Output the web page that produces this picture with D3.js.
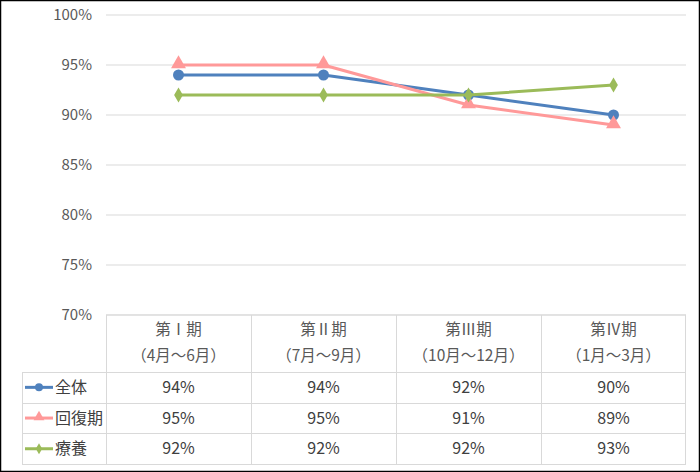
<!DOCTYPE html>
<html>
<head>
<meta charset="utf-8">
<script src="https://cdn.jsdelivr.net/npm/d3@7"></script>
<style>
  html, body { margin: 0; padding: 0; background: #fff; }
  svg { display: block; font-family: "Meiryo", "Noto Sans CJK JP", sans-serif; }
</style>
</head>
<body>
<div id="chart"></div>
<script>
// 期（カテゴリ）
var periods = ["第Ⅰ期", "第Ⅱ期", "第Ⅲ期", "第Ⅳ期"];
var periodMonths = ["（4月～6月）", "（7月～9月）", "（10月～12月）", "（1月～3月）"];
// 系列
var seriesNames = ["全体", "回復期", "療養"];
var zentai = [94, 94, 92, 90];
var kaifukuki = [95, 95, 91, 89];
var ryoyo = [92, 92, 92, 93];
var yTicks = [70, 75, 80, 85, 90, 95, 100];

var seriesColors = ["#4f81bd", "#ff9999", "#9bbb59"];
var seriesValues = [zentai, kaifukuki, ryoyo];

var width = 700, height = 472;
var plot = {left: 106, right: 686, top: 15, bottom: 315};
var table = {left: 22, headerBottom: 372, rowH: 30.7};

var svg = d3.select("#chart").append("svg")
    .attr("width", width)
    .attr("height", height);

// 外枠
svg.append("rect")
    .attr("x", 0.5).attr("y", 0.5)
    .attr("width", width - 1).attr("height", height - 1)
    .attr("fill", "#fff").attr("stroke", "#000").attr("stroke-width", 1.5);

var x = d3.scaleBand()
    .domain(periods)
    .range([plot.left, plot.right]);

var y = d3.scaleLinear()
    .domain([70, 100])
    .range([plot.bottom, plot.top]);

// 目盛線
svg.selectAll(".grid")
    .data(yTicks)
    .enter()
    .append("line")
    .attr("x1", plot.left).attr("x2", plot.right)
    .attr("y1", d => y(d)).attr("y2", d => y(d))
    .attr("stroke", "#d9d9d9").attr("stroke-width", 1);

svg.selectAll(".ylabel")
    .data(yTicks)
    .enter()
    .append("text")
    .attr("x", plot.left - 14)
    .attr("y", d => y(d))
    .attr("dy", "0.35em")
    .attr("text-anchor", "end")
    .style("font-size", "15px")
    .style("fill", "#595959")
    .text(d => d + "%");

// データテーブルの枠線
var rowsBottom = table.headerBottom + table.rowH * seriesNames.length;
var gridColor = "#d9d9d9";
// 縦線
x.domain().forEach(function (p) {
    svg.append("line")
        .attr("x1", x(p) + 0.5).attr("x2", x(p) + 0.5)
        .attr("y1", plot.bottom).attr("y2", rowsBottom)
        .attr("stroke", gridColor);
});
svg.append("line")
    .attr("x1", plot.right - 0.5).attr("x2", plot.right - 0.5)
    .attr("y1", plot.bottom).attr("y2", rowsBottom)
    .attr("stroke", gridColor);
svg.append("line")
    .attr("x1", table.left + 0.5).attr("x2", table.left + 0.5)
    .attr("y1", table.headerBottom).attr("y2", rowsBottom)
    .attr("stroke", gridColor);
// 横線
svg.append("line")
    .attr("x1", plot.left).attr("x2", plot.right)
    .attr("y1", plot.bottom).attr("y2", plot.bottom)
    .attr("stroke", gridColor);
d3.range(seriesNames.length + 1).forEach(function (i) {
    var yy = Math.round(table.headerBottom + i * table.rowH) + 0.5;
    svg.append("line")
        .attr("x1", table.left).attr("x2", plot.right)
        .attr("y1", yy).attr("y2", yy)
        .attr("stroke", gridColor);
});

// ヘッダー
svg.selectAll(".hdr1")
    .data(periods)
    .enter()
    .append("text")
    .attr("x", d => x(d) + x.bandwidth() / 2)
    .attr("y", 330)
    .attr("dy", "0.35em")
    .attr("text-anchor", "middle")
    .style("font-size", "15.5px")
    .style("fill", "#595959")
    .text(d => d);

svg.selectAll(".hdr2")
    .data(periodMonths)
    .enter()
    .append("text")
    .attr("x", (d, i) => x(periods[i]) + x.bandwidth() / 2)
    .attr("y", 356)
    .attr("dy", "0.35em")
    .attr("text-anchor", "middle")
    .style("font-size", "15.5px")
    .style("fill", "#595959")
    .text(d => d);

// マーカー
function drawMarker(g, i, cx, cy, size) {
    if (i === 0) {
        g.append("circle").attr("cx", cx).attr("cy", cy).attr("r", size)
            .attr("fill", seriesColors[i]);
    } else if (i === 1) {
        g.append("path")
            .attr("d", d3.symbol().type(d3.symbolTriangle).size(size * size * 3.2)())
            .attr("transform", "translate(" + cx + "," + (cy - 1) + ")")
            .attr("fill", seriesColors[i]);
    } else {
        g.append("path")
            .attr("d", d3.symbol().type(d3.symbolDiamond).size(size * size * 2.2)())
            .attr("transform", "translate(" + cx + "," + cy + ")")
            .attr("fill", seriesColors[i]);
    }
}

// 系列の線
var line = d3.line()
    .x((d, i) => x(periods[i]) + x.bandwidth() / 2)
    .y(d => y(d));

seriesValues.forEach(function (vals, si) {
    var g = svg.append("g");
    g.append("path")
        .datum(vals)
        .attr("d", line)
        .attr("fill", "none")
        .attr("stroke", seriesColors[si])
        .attr("stroke-width", 3)
        .attr("stroke-linejoin", "round");
    vals.forEach(function (v, i) {
        drawMarker(g, si, x(periods[i]) + x.bandwidth() / 2, y(v), 5.5);
    });
});

// テーブルの値と凡例
seriesNames.forEach(function (name, si) {
    var cy = table.headerBottom + table.rowH * (si + 0.5);
    var g = svg.append("g");
    g.append("line")
        .attr("x1", 25).attr("x2", 53)
        .attr("y1", cy).attr("y2", cy)
        .attr("stroke", seriesColors[si]).attr("stroke-width", 3);
    drawMarker(g, si, 39, cy, 4);
    g.append("text")
        .attr("x", 55).attr("y", cy)
        .attr("dy", "0.35em")
        .style("font-size", "16px")
        .style("fill", "#404040")
        .text(name);
    seriesValues[si].forEach(function (v, i) {
        g.append("text")
            .attr("x", x(periods[i]) + x.bandwidth() / 2)
            .attr("y", cy)
            .attr("dy", "0.35em")
            .attr("text-anchor", "middle")
            .style("font-size", "16px")
            .style("fill", "#404040")
            .text(v + "%");
    });
});
</script>
</body>
</html>
